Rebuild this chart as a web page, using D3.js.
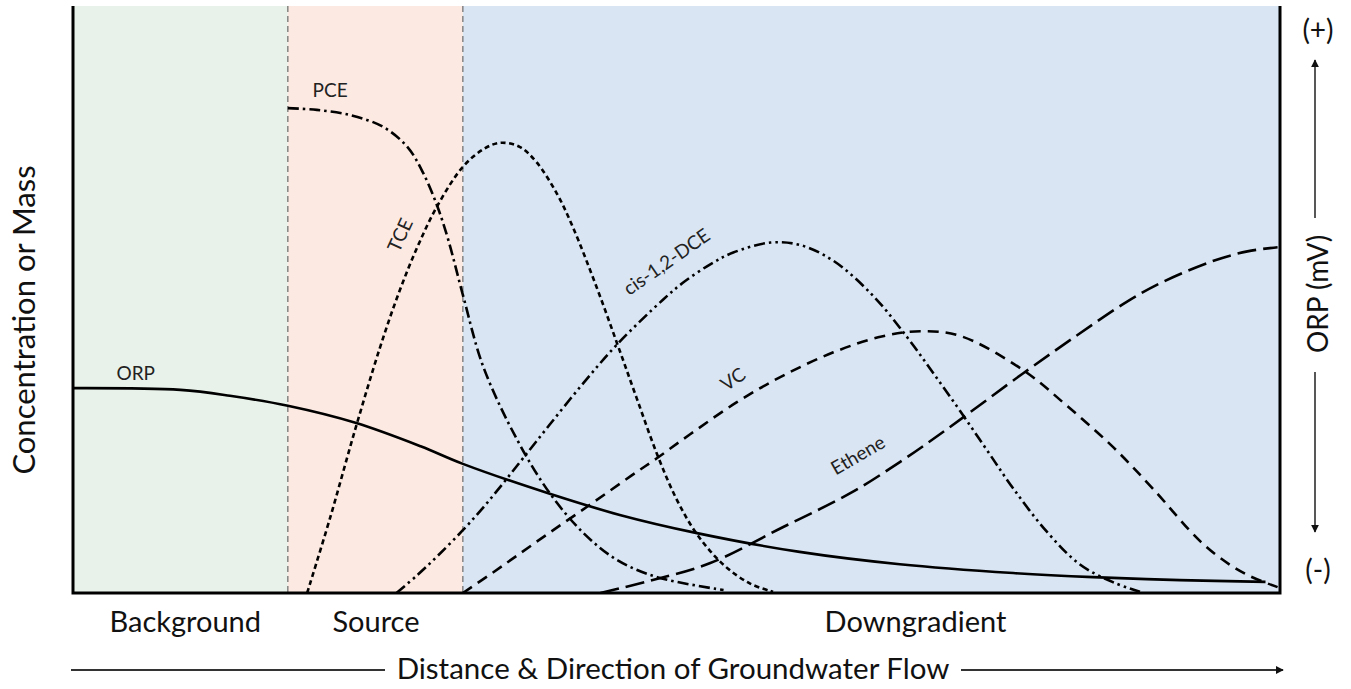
<!DOCTYPE html>
<html>
<head>
<meta charset="utf-8">
<script src="https://cdn.jsdelivr.net/npm/d3@7"></script>
<style>
  body { margin: 0; background: #fff; }
  text { font-family: Lato, "Open Sans", sans-serif; fill: #111; }
</style>
</head>
<body>
<svg id="chart" width="1351" height="689"></svg>
<script>
// x = distance along the flow path (0-100), y = relative concentration (0-100)
let zones = ["Background", "Source", "Downgradient"]
let zoneEdges = [0, 17.8, 32.3, 100]
let zoneLabelX = [9.3, 25.1, 69.8]

let pce = [[17.8,82.6],[20.2,82.3],[23.0,81.4],[25.7,79.4],[27.7,76.0],[29.0,71.6],[30.2,65.8],
  [31.1,60.1],[32.3,50.8],[34.0,38.5],[36.8,26.1],[39.5,17.0],[42.3,10.2],[45.1,5.6],[48.4,2.7],[53.9,0.5]]
let tce = [[19.4,0],[21.3,12.8],[23.4,28.0],[25.4,41.6],[26.9,50.6],[28.5,58.8],[30.2,66.0],[32.3,72.6],
  [34.0,75.6],[35.4,76.7],[37.0,76.0],[38.4,73.4],[40.1,68.0],[41.4,62.4],[43.4,52.0],[45.1,42.4],
  [46.7,33.2],[48.4,23.6],[50.0,16.0],[51.7,10.0],[53.9,4.8],[56.1,1.6],[58.0,0.2]]
let dce = [[26.8,0],[28.5,3.0],[30.2,6.3],[32.3,10.7],[34.0,14.6],[35.6,18.6],[37.3,23.0],[39.5,28.7],
  [42.3,35.8],[45.1,42.4],[48.9,50.0],[50.5,52.8],[52.8,56.0],[54.7,58.0],[57.8,59.7],[60.2,59.3],
  [63.0,56.6],[66.3,50.6],[69.1,43.6],[71.3,37.4],[73.5,31.0],[75.7,24.4],[77.9,17.8],[80.7,10.4],
  [83.4,4.9],[86.2,1.8],[88.4,0.2]]
let vc = [[32.3,0],[34.8,3.5],[36.8,6.4],[39.5,10.3],[42.8,15.0],[46.2,19.9],[48.4,23.0],[51.1,27.0],
  [55.0,32.5],[58.8,37.0],[63.0,41.0],[67.0,43.7],[70.2,44.6],[73.5,43.8],[78.7,38.0],[82.4,31.8],
  [86.2,24.8],[89.5,17.7],[93.4,8.8],[96.0,4.6],[97.8,2.6],[99.8,1.0]]
let ethene = [[43.7,0],[47.8,2.1],[52.8,5.1],[58.8,11.2],[64.4,17.0],[68.5,22.3],[72.4,27.9],[78.7,37.4],
  [83.4,44.2],[87.3,49.6],[90.3,53.0],[94.5,56.6],[97.3,58.2],[99.8,58.9]]
let orp = [[0,34.9],[8.9,34.6],[13.0,33.6],[17.8,31.9],[23.4,29.0],[28.8,25.0],[32.3,22.0],[39.5,16.9],
  [45.3,13.3],[51.7,10.2],[60.2,7.0],[68.5,4.9],[77.9,3.4],[84.5,2.7],[91.7,2.2],[98.8,1.9]]

let seriesNames = ["PCE", "TCE", "cis-1,2-DCE", "VC", "Ethene", "ORP"]
let seriesValues = [pce, tce, dce, vc, ethene, orp]

// label anchor (data units) and tilt for each curve label
let labelPos = [[21.3,84.5,0],[27.6,60.5,-65],[49.5,55.5,-35],[55,35.5,-35],[65.3,22.5,-30],[5.2,36.3,0]]

// ---- styling ----
let zoneColors = ["#e8f2ea", "#fce9e1", "#d9e5f2"]
let dashes = ["11,4,2.5,4", "5,3.5", "11,4,2.5,4,2.5,4", "11,7", "19,7", null]

let svg = d3.select("#chart")
let x = d3.scaleLinear().domain([0, 100]).range([73, 1280])
let y = d3.scaleLinear().domain([0, 100]).range([593, 6])

let defs = svg.append("defs")
defs.append("marker")
  .attr("id", "arrow")
  .attr("viewBox", "0 0 10 10")
  .attr("refX", 9).attr("refY", 5)
  .attr("markerWidth", 8).attr("markerHeight", 8)
  .attr("markerUnits", "userSpaceOnUse")
  .attr("orient", "auto")
  .append("path").attr("d", "M0,0L10,5L0,10z").attr("fill", "#111")
defs.append("clipPath").attr("id", "plot")
  .append("rect").attr("x", x(0)).attr("y", y(100)).attr("width", x(100) - x(0)).attr("height", y(0) - y(100))

// zone backgrounds
svg.append("g").selectAll("rect")
  .data(zones).enter()
  .append("rect")
  .attr("x", (d, i) => x(zoneEdges[i]))
  .attr("y", y(100))
  .attr("width", (d, i) => x(zoneEdges[i + 1]) - x(zoneEdges[i]))
  .attr("height", y(0) - y(100))
  .attr("fill", (d, i) => zoneColors[i])

// zone boundaries
svg.append("g").selectAll("line")
  .data(zoneEdges.slice(1, -1)).enter()
  .append("line")
  .attr("x1", d => x(d)).attr("x2", d => x(d))
  .attr("y1", y(100)).attr("y2", y(0))
  .attr("stroke", "#6b6b6b").attr("stroke-width", 1.2).attr("stroke-dasharray", "6,4")

// curves
let line = d3.line().x(d => x(d[0])).y(d => y(d[1])).curve(d3.curveCatmullRom.alpha(0.5))
svg.append("g").attr("clip-path", "url(#plot)").selectAll("path")
  .data(seriesValues).enter()
  .append("path")
  .attr("d", line)
  .attr("fill", "none")
  .attr("stroke", "#000")
  .attr("stroke-width", 2.6)
  .attr("stroke-dasharray", (d, i) => dashes[i])

// curve labels
svg.append("g").selectAll("text")
  .data(seriesNames).enter()
  .append("text")
  .attr("transform", (d, i) => `translate(${x(labelPos[i][0])},${y(labelPos[i][1])}) rotate(${labelPos[i][2]})`)
  .attr("text-anchor", "middle")
  .attr("font-size", 19)
  .style("fill", "#222")
  .text(d => d)

// frame: left, bottom, right
svg.append("path")
  .attr("d", `M${x(0)},${y(100)}V${y(0)}H${x(100)}V${y(100)}`)
  .attr("fill", "none").attr("stroke", "#000").attr("stroke-width", 3)

// zone names under the axis
svg.append("g").selectAll("text")
  .data(zones).enter()
  .append("text")
  .attr("x", (d, i) => x(zoneLabelX[i]))
  .attr("y", 632)
  .attr("text-anchor", "middle")
  .attr("font-size", 29)
  .text(d => d)

// left axis title
svg.append("text")
  .attr("transform", "translate(35,320) rotate(-90)")
  .attr("text-anchor", "middle")
  .attr("font-size", 31)
  .text("Concentration or Mass")

// flow direction
let flow = svg.append("g")
flow.append("text")
  .attr("x", 673).attr("y", 679)
  .attr("text-anchor", "middle")
  .attr("font-size", 29.5)
  .text("Distance & Direction of Groundwater Flow")
flow.append("line").attr("x1", 71).attr("x2", 385).attr("y1", 670).attr("y2", 670)
  .attr("stroke", "#333").attr("stroke-width", 1.8)
flow.append("line").attr("x1", 961).attr("x2", 1283).attr("y1", 670).attr("y2", 670)
  .attr("stroke", "#333").attr("stroke-width", 1.8).attr("marker-end", "url(#arrow)")

// right ORP scale
let orpAxis = svg.append("g")
orpAxis.append("text").attr("x", 1318).attr("y", 40).attr("text-anchor", "middle").attr("font-size", 28).text("(+)")
orpAxis.append("text").attr("x", 1318).attr("y", 580).attr("text-anchor", "middle").attr("font-size", 28).text("(-)")
orpAxis.append("text")
  .attr("transform", "translate(1328,294) rotate(-90)")
  .attr("text-anchor", "middle")
  .attr("font-size", 28)
  .text("ORP (mV)")
orpAxis.append("line").attr("x1", 1315).attr("x2", 1315).attr("y1", 218).attr("y2", 60)
  .attr("stroke", "#111").attr("stroke-width", 1.4).attr("marker-end", "url(#arrow)")
orpAxis.append("line").attr("x1", 1315).attr("x2", 1315).attr("y1", 372).attr("y2", 532)
  .attr("stroke", "#111").attr("stroke-width", 1.4).attr("marker-end", "url(#arrow)")
</script>
</body>
</html>
